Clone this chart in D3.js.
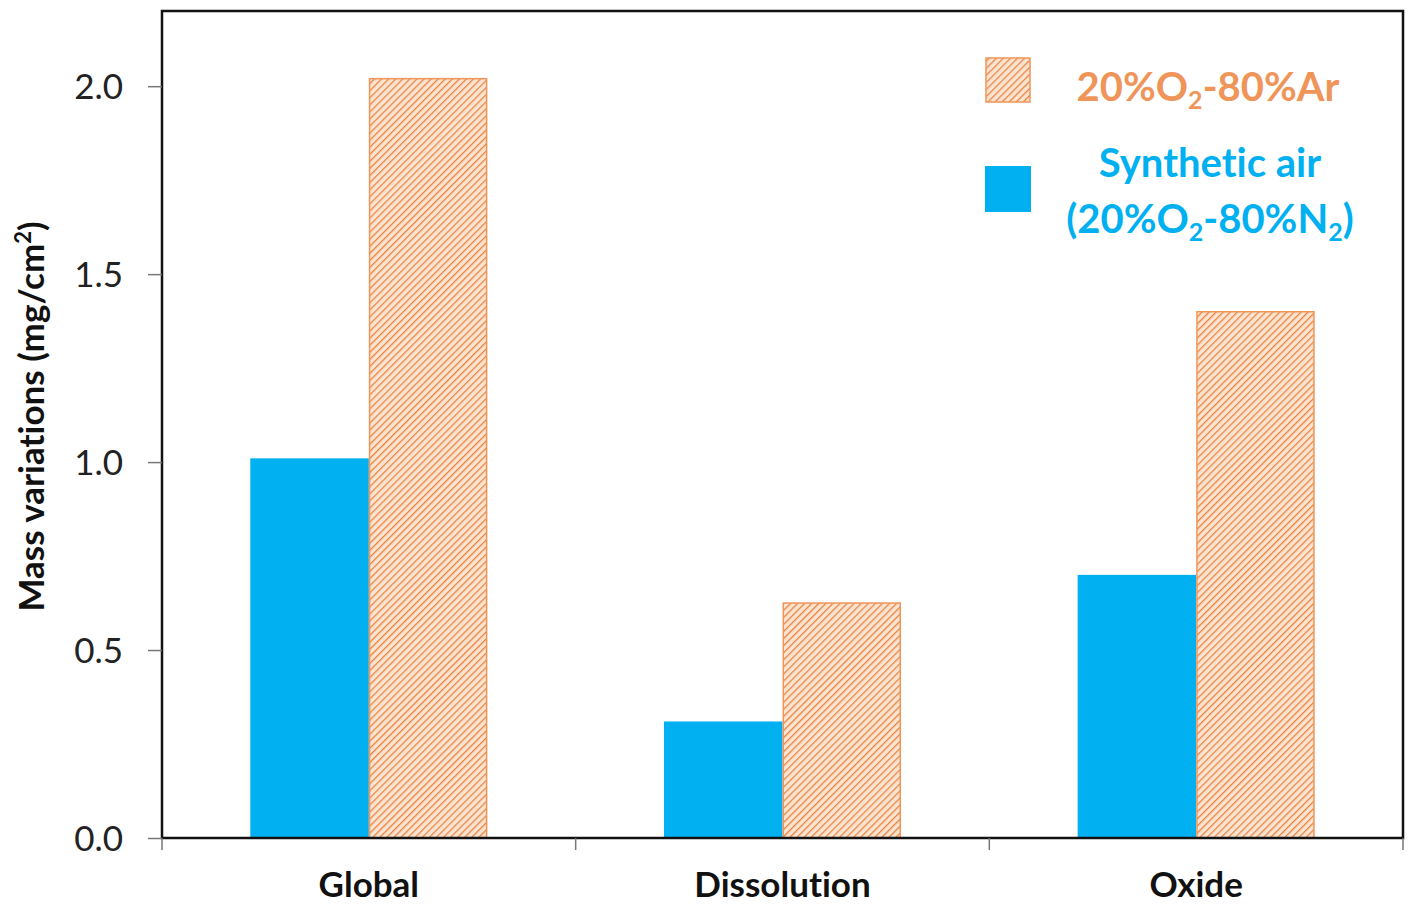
<!DOCTYPE html>
<html><head><meta charset="utf-8">
<script src="https://cdn.jsdelivr.net/npm/d3@7"></script>
<style>body{margin:0;background:#fff}svg{display:block}text{font-variant-ligatures:none;font-feature-settings:"liga" 0}</style>
</head><body>
<svg id="c" width="1410" height="906"></svg>
<script>
const categories = ["Global", "Dissolution", "Oxide"];
const seriesNames = ["Synthetic air", "20%O2-80%Ar"];
const airValues = [1.01, 0.31, 0.70];
const arValues = [2.02, 0.625, 1.40];
const yTicks = [0, 0.5, 1.0, 1.5, 2.0];

const svg = d3.select("#c");
const L = 162, R = 1403, T = 11, B = 838;
const FONT = "Lato, 'Open Sans', sans-serif";
const BLUE = "#00B0F0", ORANGE = "#F0955A";

const defs = svg.append("defs");
const pat = defs.append("pattern").attr("id", "hatch").attr("patternUnits", "userSpaceOnUse")
  .attr("width", 5).attr("height", 5).attr("patternTransform", "rotate(45)");
pat.append("rect").attr("width", 5).attr("height", 5).attr("fill", "#FCE4D2");
pat.append("line").attr("x1", 0).attr("y1", 0).attr("x2", 0).attr("y2", 5)
  .attr("stroke", "#E9843F").attr("stroke-width", 2.6);

const x = d3.scaleBand().domain(categories).range([L, R]).padding(0);
const inner = d3.scaleBand().domain(seriesNames).range([0, x.bandwidth()]).paddingInner(0).paddingOuter(0.745);
const y = d3.scaleLinear().domain([0, 2.2]).range([B, T]);

// bars
const data = categories.map((c, i) => ({c, vals: [airValues[i], arValues[i]]}));
const g = svg.append("g");
data.forEach(d => {
  g.append("rect").attr("x", x(d.c) + inner(seriesNames[0])).attr("y", y(d.vals[0]))
    .attr("width", inner.bandwidth()).attr("height", y(0) - y(d.vals[0])).attr("fill", BLUE);
  g.append("rect").attr("x", x(d.c) + inner(seriesNames[1]) + 0.75).attr("y", y(d.vals[1]))
    .attr("width", inner.bandwidth() - 1.5).attr("height", y(0) - y(d.vals[1]))
    .attr("fill", "url(#hatch)").attr("stroke", ORANGE).attr("stroke-width", 1.5);
});

// frame
svg.append("rect").attr("x", L).attr("y", T).attr("width", R - L).attr("height", B - T)
  .attr("fill", "none").attr("stroke", "#111").attr("stroke-width", 2.5);

// y axis
const ya = svg.append("g").attr("transform", `translate(${L},0)`)
  .call(d3.axisLeft(y).tickValues(yTicks).tickFormat(d3.format(".1f")).tickSize(14).tickPadding(25));
ya.select(".domain").remove();
ya.selectAll(".tick line").attr("stroke", "#777").attr("stroke-width", 1.5);
ya.selectAll(".tick text").attr("font-family", FONT).attr("font-size", 35).attr("fill", "#222").attr("dy", "0.36em");

// x axis ticks at boundaries
const boundaries = [L, ...categories.map(c => x(c) + x.bandwidth())];
svg.append("g").selectAll("line").data(boundaries).join("line")
  .attr("x1", d => d).attr("x2", d => d).attr("y1", B).attr("y2", B + 12)
  .attr("stroke", "#777").attr("stroke-width", 1.5);
svg.append("g").selectAll("text").data(categories).join("text")
  .attr("x", d => x(d) + x.bandwidth() / 2).attr("y", 897)
  .attr("text-anchor", "middle").attr("font-family", FONT).attr("font-weight", 700)
  .attr("font-size", 35).attr("fill", "#111").text(d => d);

// y title
const yt = svg.append("text").attr("transform", `translate(44,${(T + B) / 2 - 8}) rotate(-90)`)
  .attr("text-anchor", "middle").attr("font-family", FONT).attr("font-weight", 700)
  .attr("font-size", 35).attr("fill", "#111");
yt.append("tspan").text("Mass variations (mg/cm");
yt.append("tspan").attr("font-size", 22).attr("dy", -13).text("2");
yt.append("tspan").attr("dy", 13).text(")");

// legend
const lg = svg.append("g");
lg.append("rect").attr("x", 986).attr("y", 58).attr("width", 44).attr("height", 44)
  .attr("fill", "url(#hatch)").attr("stroke", ORANGE).attr("stroke-width", 1.5);
lg.append("rect").attr("x", 985).attr("y", 166).attr("width", 46).attr("height", 46).attr("fill", BLUE);

const FS = 40, SS = 25;
const t1 = lg.append("text").attr("x", 1208).attr("y", 101).attr("text-anchor", "middle")
  .attr("font-family", FONT).attr("font-weight", 700).attr("font-size", FS).attr("fill", ORANGE);
t1.append("tspan").text("20%O");
t1.append("tspan").attr("font-size", SS).attr("dy", 8).text("2");
t1.append("tspan").attr("dy", -8).text("-80%Ar");

lg.append("text").attr("x", 1210).attr("y", 177).attr("text-anchor", "middle")
  .attr("font-family", FONT).attr("font-weight", 700).attr("font-size", FS).attr("fill", BLUE)
  .text("Synthetic air");
const t3 = lg.append("text").attr("x", 1210).attr("y", 233).attr("text-anchor", "middle")
  .attr("font-family", FONT).attr("font-weight", 700).attr("font-size", FS).attr("fill", BLUE);
t3.append("tspan").text("(20%O");
t3.append("tspan").attr("font-size", SS).attr("dy", 8).text("2");
t3.append("tspan").attr("dy", -8).text("-80%N");
t3.append("tspan").attr("font-size", SS).attr("dy", 8).text("2");
t3.append("tspan").attr("dy", -8).text(")");
</script>
</body></html>
